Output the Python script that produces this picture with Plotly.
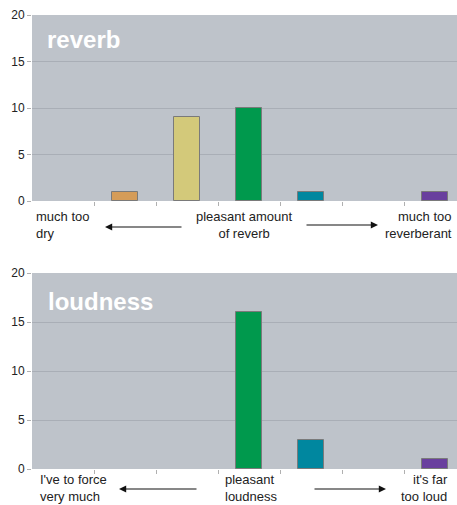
import plotly.graph_objects as go

categories = [1, 2, 3, 4, 5, 6, 7]
reverb = [0, 1, 9, 10, 1, 0, 1]
loudness = [0, 0, 0, 16, 3, 0, 1]
bar_colors = ["#D2B56A", "#D59C58", "#D3C97A", "#00994D", "#00879F", "#6A9FD0", "#693F9E"]
y_ticks = [0, 5, 10, 15, 20]

W, H = 457, 505
FONT = "Arial, Liberation Sans, sans-serif"

def px(x):
    return x / W

def py(y):
    return 1 - y / H

fig = go.Figure()
for vals, ax in [(reverb, ("x", "y")), (loudness, ("x2", "y2"))]:
    fig.add_trace(go.Bar(
        x=categories, y=vals, xaxis=ax[0], yaxis=ax[1],
        marker=dict(color=bar_colors,
                    line=dict(color="#7a7a7a", width=[1 if v else 0 for v in vals])),
        width=0.41, showlegend=False, hoverinfo="y",
    ))

xcommon = dict(
    domain=[px(32), 1], range=[0.5, 7.5 - 9 / 62],
    tickvals=[1.5, 2.5, 3.5, 4.5, 5.5, 6.5], ticktext=[""] * 6,
    ticks="outside", ticklen=4, tickcolor="#b0b0b0", showgrid=False,
    zeroline=False, showline=False, fixedrange=True, automargin=False,
)
ycommon = dict(
    range=[0, 20], tickvals=y_ticks, ticks="outside", ticklen=4,
    tickcolor="#b0b0b0", showgrid=True, gridcolor="#A9AEB6", gridwidth=1,
    zeroline=False, showline=False, fixedrange=True, automargin=False,
    tickfont=dict(family=FONT, size=12, color="#222"),
)
fig.update_layout(
    width=W, height=H, margin=dict(l=0, r=0, t=0, b=0, pad=0, autoexpand=False),
    paper_bgcolor="white", plot_bgcolor="#BEC3CA",
    xaxis=dict(**xcommon, anchor="y"),
    xaxis2=dict(**xcommon, anchor="y2"),
    yaxis=dict(**ycommon, domain=[py(201), py(15)], anchor="x"),
    yaxis2=dict(**ycommon, domain=[py(469), py(273)], anchor="x2"),
    bargap=0,
)

ann = []
def txt(text, x, y, xanchor, align, size=13, color="#222", bold=False):
    ann.append(dict(
        text=f"<b>{text}</b>" if bold else text, x=px(x), y=py(y),
        xref="paper", yref="paper", xanchor=xanchor, yanchor="middle",
        align=align, showarrow=False,
        font=dict(family=FONT, size=size, color=color),
    ))

def arrow(x_tail, x_head, y):
    ann.append(dict(
        x=px(x_head), y=py(y), ax=x_tail - x_head, ay=0,
        xref="paper", yref="paper", axref="pixel", ayref="pixel",
        text="", showarrow=True, arrowhead=2, arrowsize=1.2,
        arrowwidth=1.2, arrowcolor="#111",
    ))

txt("reverb", 45, 40, "left", "left", size=24, color="white", bold=True)
txt("loudness", 46, 301, "left", "left", size=24, color="white", bold=True)

txt("much too<br>dry", 34, 225, "left", "left")
txt("pleasant amount<br>of reverb", 244, 225, "center", "center")
txt("much too<br>reverberant", 454, 225, "right", "right")
arrow(183, 105, 227)
arrow(305, 378, 225)

txt("I've to force<br>very much", 38, 488, "left", "left")
txt("pleasant<br>loudness", 223, 488, "left", "left")
txt("it's far<br>too loud", 450, 488, "right", "right")
arrow(198, 119, 489)
arrow(313, 386, 489)

fig.update_layout(annotations=ann)
fig.write_html(
    "out.html",
    config={"displayModeBar": False},
    post_script=(
        "document.documentElement.style.margin='0';"
        "document.documentElement.style.padding='0';"
        "document.documentElement.style.overflow='hidden';"
        "document.body.style.margin='0';document.body.style.padding='0';"
        "document.body.style.overflow='hidden';"
        "var g=document.getElementById('{plot_id}');"
        "g.style.position='fixed';g.style.left='0';g.style.top='0';"
    ),
)
